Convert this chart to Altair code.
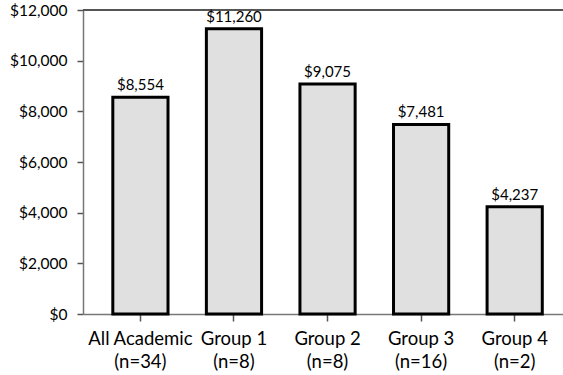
import altair as alt
import pandas as pd

groups = ["All Academic", "Group 1", "Group 2", "Group 3", "Group 4"]
sizes = ["(n=34)", "(n=8)", "(n=8)", "(n=16)", "(n=2)"]
amounts = [8554, 11260, 9075, 7481, 4237]

df = pd.DataFrame({
    "group": [f"{g}|{n}" for g, n in zip(groups, sizes)],
    "amount": amounts,
    "label": [f"${v:,}" for v in amounts],
})

FONT = "Lato"
order = list(df["group"])

x = alt.X(
    "group:N",
    sort=order,
    title=None,
    scale=alt.Scale(paddingInner=0.41, paddingOuter=0.27, align=0.59),
    axis=alt.Axis(
        labelAngle=0,
        labelExpr="split(datum.value, '|')",
        labelFont=FONT,
        labelFontSize=18.5,
        labelColor="black",
        labelPadding=8,
        labelLineHeight=23,
        tickSize=7,
        tickColor="#555555",
        domainColor="#777777",
        tickWidth=1.5,
        domainWidth=1.5,
    ),
)
y = alt.Y(
    "amount:Q",
    title=None,
    scale=alt.Scale(domain=[0, 12000], nice=False),
    axis=alt.Axis(
        values=list(range(0, 12001, 2000)),
        labelExpr="'$' + format(datum.value, ',')",
        labelFont=FONT,
        labelFontSize=15.5,
        labelColor="black",
        labelPadding=10,
        tickSize=6,
        tickColor="#555555",
        domainColor="#777777",
        tickWidth=1.5,
        domainWidth=1.5,
        grid=False,
    ),
)

bars = alt.Chart(df).mark_bar(
    color="#e0e0e0", stroke="black", strokeWidth=3
).encode(x=x, y=y)

labels = alt.Chart(df).mark_text(
    baseline="bottom", dy=-4, font=FONT, fontSize=15, color="black"
).encode(x=alt.X("group:N", sort=order), y="amount:Q", text="label:N")

top_line = alt.Chart(pd.DataFrame({"top": [12000]})).mark_rule(
    color="#555555", strokeWidth=2
).encode(y="top:Q")

chart = (
    alt.layer(top_line, bars, labels)
    .properties(
        width=480,
        height=304,
        autosize=alt.AutoSizeParams(type="none"),
        padding={"left": 83, "top": 10, "right": 0, "bottom": 61},
    )
    .configure_view(stroke=None)
    .configure(background="white")
)

chart.save("out.html", embed_options={"renderer": "svg", "actions": False})
